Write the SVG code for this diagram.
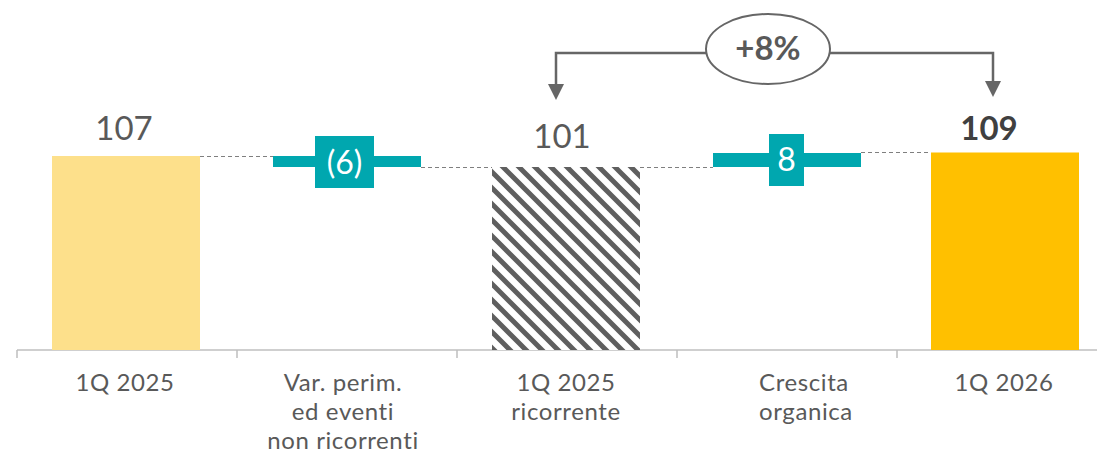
<svg xmlns="http://www.w3.org/2000/svg" width="1097" height="454" viewBox="0 0 1097 454">
<defs>
<style>
text{font-variant-ligatures:none}
.lbl{font-family:Lato,"Open Sans","Liberation Sans",sans-serif;font-size:24px;letter-spacing:0.6px;fill:#595959;text-anchor:middle}
.val{font-family:Lato,"Open Sans","Liberation Sans",sans-serif;font-size:33px;fill:#595959;text-anchor:middle}
.box{font-family:Lato,"Open Sans","Liberation Sans",sans-serif;font-size:32px;fill:#ffffff;text-anchor:middle}
.dash{stroke:#7f7f7f;stroke-width:1;stroke-dasharray:4 3;fill:none}
.conn{stroke:#666666;stroke-width:2.5;fill:none}
.teal{fill:#00A7AF}
</style>
<pattern id="hatch" patternUnits="userSpaceOnUse" width="16" height="16">
<rect width="16" height="16" fill="#ffffff"/>
<path d="M-4,-4 L20,20 M-4,12 L4,20 M12,-4 L20,4" stroke="#5f5f5f" stroke-width="5"/>
</pattern>
</defs>
<g id="axis">
<line x1="17" y1="350" x2="1097" y2="350" stroke="#bfbfbf" stroke-width="1.5"/>
<path d="M17,350V358M237,350V358M457,350V358M677,350V358M897,350V358" stroke="#bfbfbf" stroke-width="1.5"/>
</g>
<g id="connectors">
<line class="dash" x1="200" y1="156.5" x2="273" y2="156.5"/>
<line class="dash" x1="421" y1="167.5" x2="492" y2="167.5"/>
<line class="dash" x1="640" y1="167.5" x2="713" y2="167.5"/>
<line class="dash" x1="861" y1="152.5" x2="931" y2="152.5"/>
<path class="conn" d="M706,53 H556 V86"/>
<path class="conn" d="M830,53 H993 V83"/>
<path d="M548,84 L564,84 L556,100 Z" fill="#666666"/>
<path d="M985,81 L1001,81 L993,97 Z" fill="#666666"/>
</g>
<g id="bar-1q2025">
<rect x="52" y="156" width="148" height="194" fill="#FDE08B"/>
<text class="val" x="124" y="140">107</text>
<text class="lbl" x="125" y="391">1Q 2025</text>
</g>
<g id="bar-var">
<rect class="teal" x="273" y="156" width="148" height="11"/>
<rect class="teal" x="315" y="136" width="59" height="52"/>
<text class="box" x="344.5" y="174">(6)</text>
<text class="lbl" x="343" y="391">Var. perim.</text>
<text class="lbl" x="343" y="420">ed eventi</text>
<text class="lbl" x="343" y="449">non ricorrenti</text>
</g>
<g id="bar-1q2025r">
<rect x="492" y="167" width="148" height="183" fill="url(#hatch)"/>
<text class="val" x="562" y="148">101</text>
<text class="lbl" x="566" y="391">1Q 2025</text>
<text class="lbl" x="566" y="420">ricorrente</text>
</g>
<g id="bar-crescita">
<rect class="teal" x="713" y="153" width="148" height="14"/>
<rect class="teal" x="769" y="134" width="35" height="52"/>
<text class="box" x="786.5" y="171">8</text>
<text class="lbl" x="804" y="391">Crescita</text>
<text class="lbl" x="806" y="420">organica</text>
</g>
<g id="bar-1q2026">
<rect x="931" y="152.5" width="148" height="197.5" fill="#FFC000"/>
<text class="val" x="989" y="140" font-weight="bold" style="fill:#404040">109</text>
<text class="lbl" x="1004" y="391">1Q 2026</text>
</g>
<g id="growth">
<ellipse cx="768" cy="49" rx="62" ry="35" fill="#ffffff" stroke="#666666" stroke-width="2"/>
<text class="val" x="768" y="60" font-weight="bold" style="fill:#595959">+8%</text>
</g>
</svg>
